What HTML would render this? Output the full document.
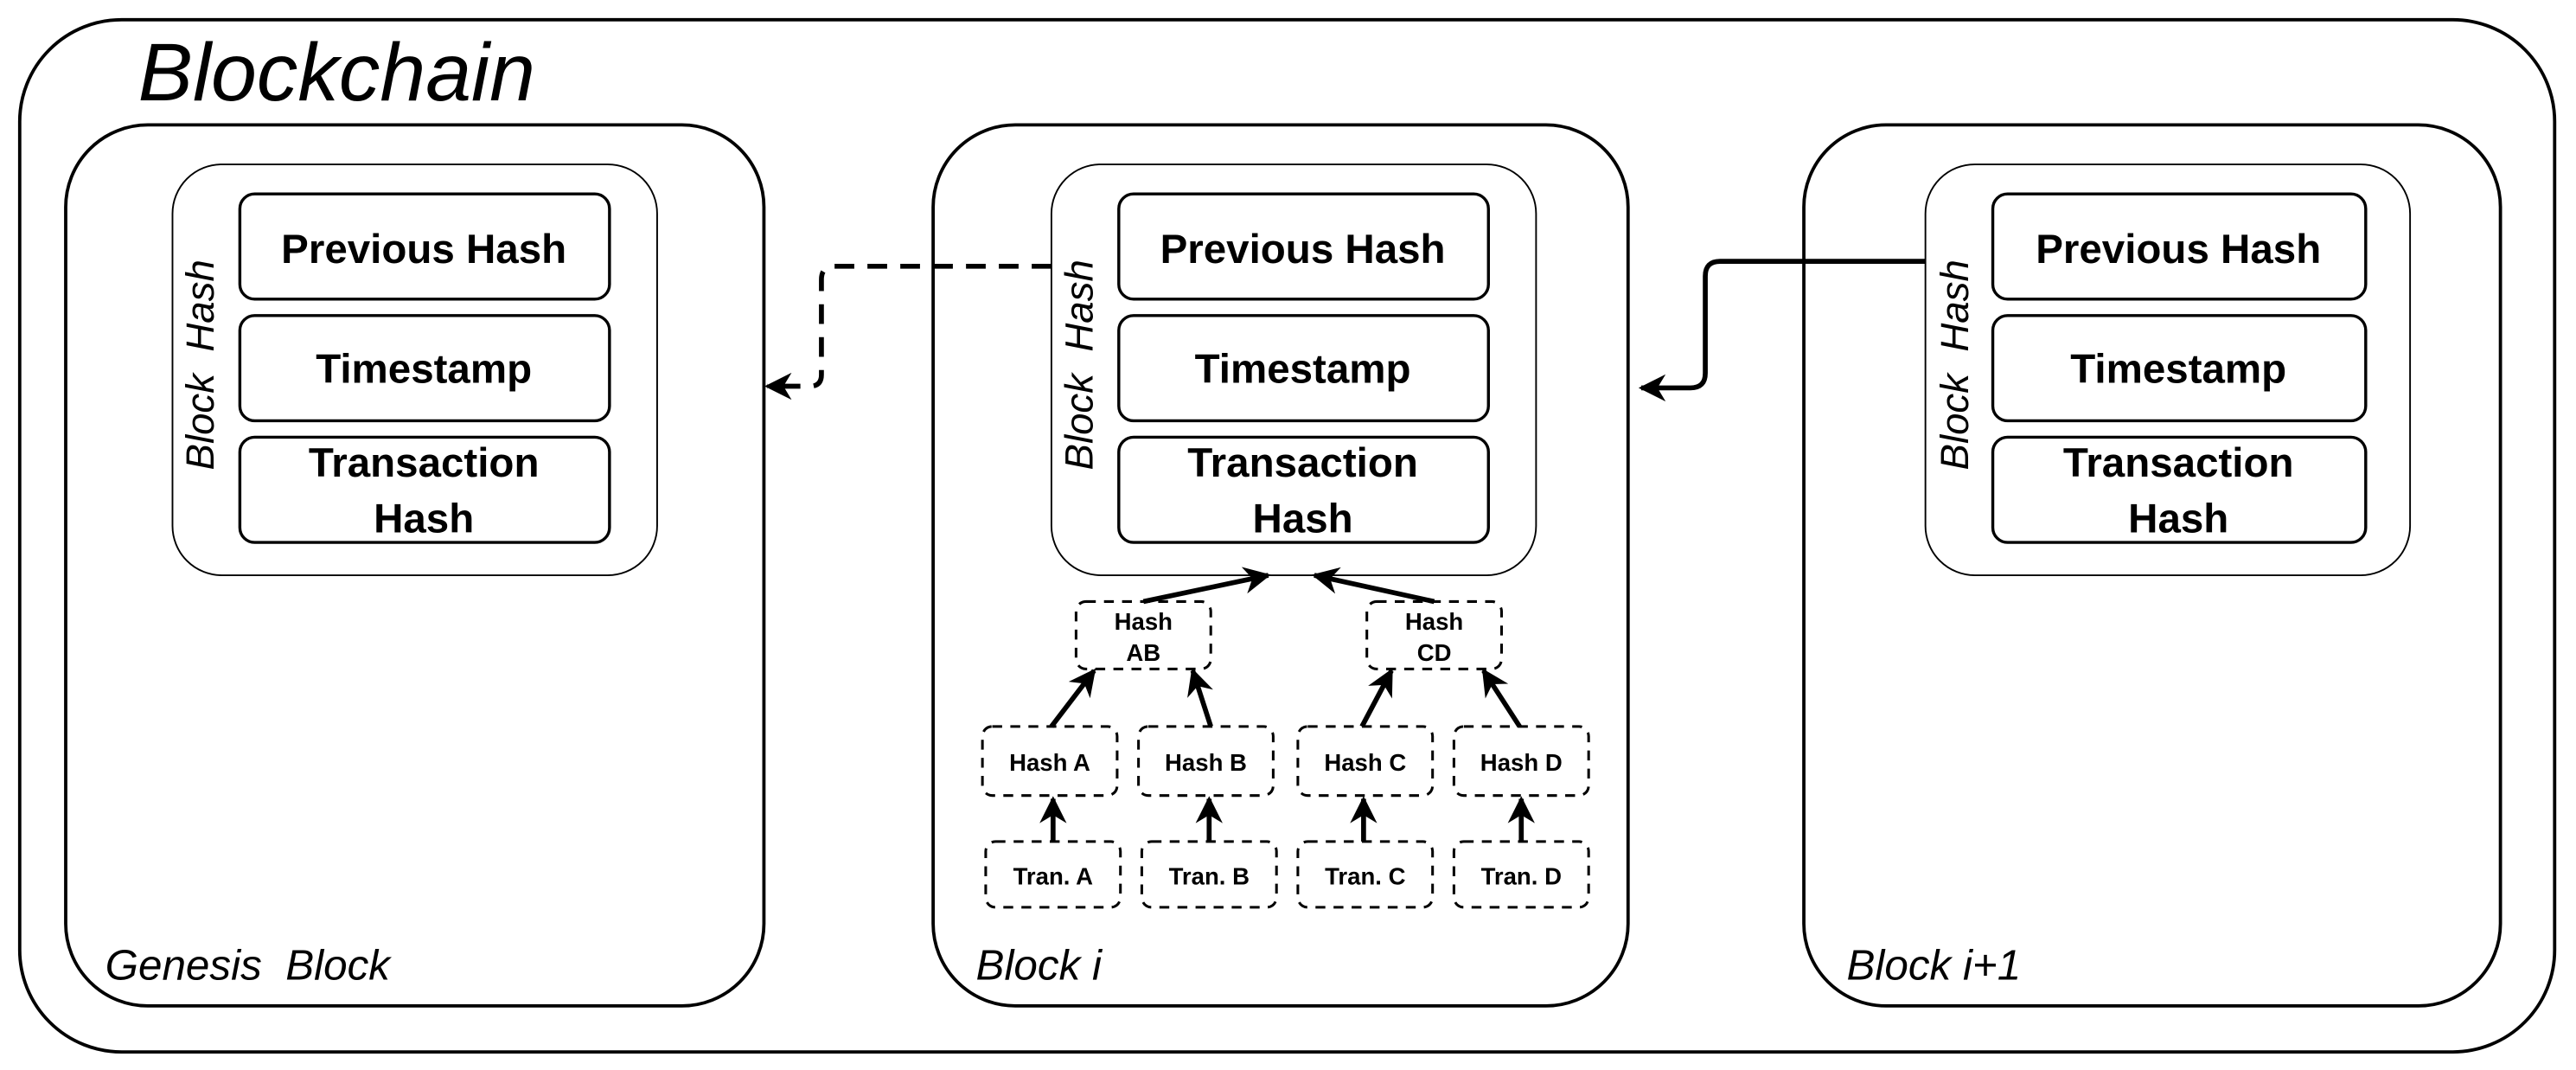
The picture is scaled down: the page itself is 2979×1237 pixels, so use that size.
<!DOCTYPE html>
<html><head><meta charset="utf-8"><style>
html,body{margin:0;padding:0;background:#fff;}
svg{display:block;}
text{font-family:"Liberation Sans",Arial,sans-serif;}
.f{font-weight:bold;font-size:25px;text-anchor:middle;}
.m{font-weight:bold;font-size:14.5px;text-anchor:middle;}
</style></head><body>
<svg width="2979" height="1237" viewBox="0 0 1568 651" preserveAspectRatio="none" xmlns="http://www.w3.org/2000/svg">
<defs>
<marker id="ah" viewBox="0 0 10 10" refX="9" refY="5" markerWidth="5.5" markerHeight="5.5" orient="auto-start-reverse" markerUnits="strokeWidth">
<path d="M0,0 L10,5 L0,10 L3,5 Z" fill="#000"/></marker>
</defs>
<rect x="12" y="12" width="1543" height="628" rx="62" fill="#fff" stroke="#000" stroke-width="2"/>
<text x="84" y="61" font-size="50" font-style="italic">Blockchain</text>

<g fill="none" stroke="#000" stroke-width="2">
<rect x="40" y="76" width="425" height="536" rx="50"/>
<rect x="568" y="76" width="423" height="536" rx="50"/>
<rect x="1098" y="76" width="424" height="536" rx="50"/>
</g>
<g fill="none" stroke="#000" stroke-width="1">
<rect x="105" y="100" width="295" height="250" rx="30"/>
<rect x="640" y="100" width="295" height="250" rx="30"/>
<rect x="1172" y="100" width="295" height="250" rx="30"/>
</g>
<g fill="none" stroke="#000" stroke-width="1.8">
<rect x="146" y="118" width="225" height="64" rx="9"/><rect x="146" y="192" width="225" height="64" rx="9"/><rect x="146" y="266" width="225" height="64" rx="9"/>
<rect x="681" y="118" width="225" height="64" rx="9"/><rect x="681" y="192" width="225" height="64" rx="9"/><rect x="681" y="266" width="225" height="64" rx="9"/>
<rect x="1213" y="118" width="227" height="64" rx="9"/><rect x="1213" y="192" width="227" height="64" rx="9"/><rect x="1213" y="266" width="227" height="64" rx="9"/>
</g>
<g>
<text class="f" x="258" y="160">Previous Hash</text><text class="f" x="258" y="233">Timestamp</text><text class="f" x="258" y="290">Transaction</text><text class="f" x="258" y="324">Hash</text>
<text class="f" x="793" y="160">Previous Hash</text><text class="f" x="793" y="233">Timestamp</text><text class="f" x="793" y="290">Transaction</text><text class="f" x="793" y="324">Hash</text>
<text class="f" x="1326" y="160">Previous Hash</text><text class="f" x="1326" y="233">Timestamp</text><text class="f" x="1326" y="290">Transaction</text><text class="f" x="1326" y="324">Hash</text>
</g>
<g font-size="24" font-style="italic" text-anchor="middle">
<text transform="translate(130,222) rotate(-90)" xml:space="preserve">Block  Hash</text>
<text transform="translate(665,222) rotate(-90)" xml:space="preserve">Block  Hash</text>
<text transform="translate(1198,222) rotate(-90)" xml:space="preserve">Block  Hash</text>
</g>
<g font-size="26" font-style="italic">
<text x="64" y="596" xml:space="preserve">Genesis  Block</text>
<text x="594" y="596">Block i</text>
<text x="1124" y="596">Block i+1</text>
</g>

<path d="M640,162 H508 Q500,162 500,170 V228 Q500,235 493,235 H467" fill="none" stroke="#000" stroke-width="3" stroke-dasharray="12,8" marker-end="url(#ah)"/>
<path d="M1172,159 H1047 Q1038,159 1038,168 V227 Q1038,236 1029,236 H999" fill="none" stroke="#000" stroke-width="3" marker-end="url(#ah)"/>

<g fill="none" stroke="#000" stroke-width="1.6" stroke-dasharray="6,5">
<rect x="655" y="366" width="82" height="41" rx="6"/>
<rect x="832" y="366" width="82" height="41" rx="6"/>
<rect x="598" y="442" width="82" height="42" rx="6"/>
<rect x="693" y="442" width="82" height="42" rx="6"/>
<rect x="790" y="442" width="82" height="42" rx="6"/>
<rect x="885" y="442" width="82" height="42" rx="6"/>
<rect x="600" y="512" width="82" height="40" rx="6"/>
<rect x="695" y="512" width="82" height="40" rx="6"/>
<rect x="790" y="512" width="82" height="40" rx="6"/>
<rect x="885" y="512" width="82" height="40" rx="6"/>
</g>
<g>
<text class="m" x="696" y="383">Hash</text><text class="m" x="696" y="402">AB</text>
<text class="m" x="873" y="383">Hash</text><text class="m" x="873" y="402">CD</text>
<text class="m" x="639" y="469">Hash A</text><text class="m" x="734" y="469">Hash B</text>
<text class="m" x="831" y="469">Hash C</text><text class="m" x="926" y="469">Hash D</text>
<text class="m" x="641" y="538">Tran. A</text><text class="m" x="736" y="538">Tran. B</text>
<text class="m" x="831" y="538">Tran. C</text><text class="m" x="926" y="538">Tran. D</text>
</g>
<g fill="none" stroke="#000" stroke-width="3" marker-end="url(#ah)">
<path d="M696,366 L772,350"/>
<path d="M873,366 L800,350"/>
<path d="M640,442 L666,408"/>
<path d="M737,442 L726,408"/>
<path d="M829,442 L847,408"/>
<path d="M925,442 L903,408"/>
<path d="M641,512 L641,486"/>
<path d="M736,512 L736,486"/>
<path d="M830,512 L830,486"/>
<path d="M926,512 L926,486"/>
</g>
</svg>
</body></html>
